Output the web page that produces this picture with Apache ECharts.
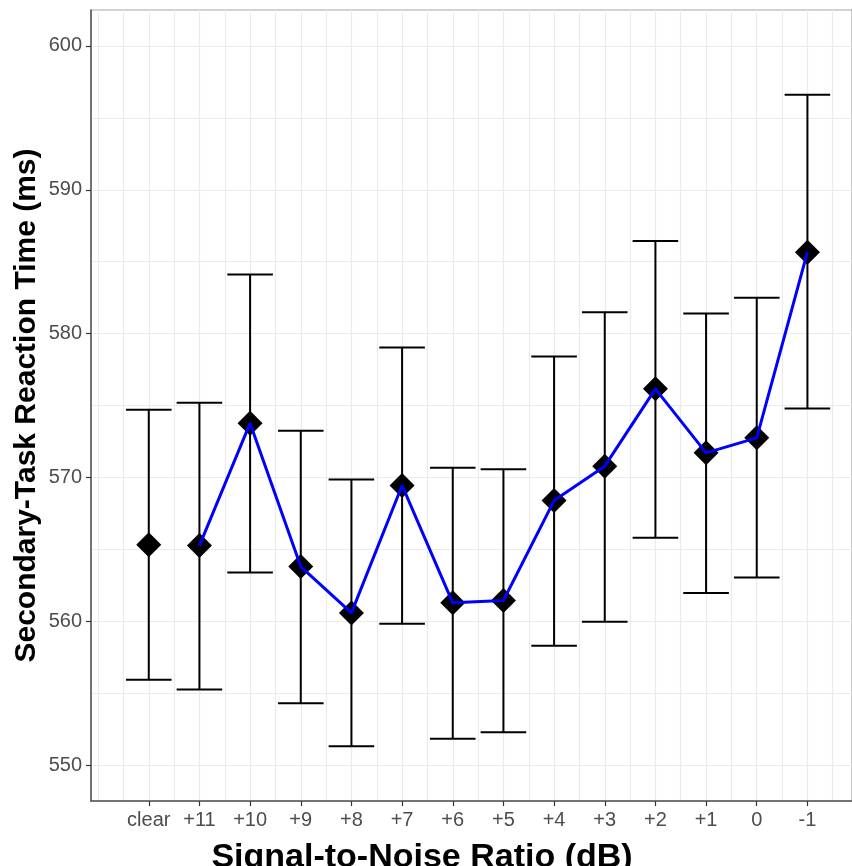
<!DOCTYPE html>
<html>
<head>
<meta charset="utf-8">
<script src="https://cdn.jsdelivr.net/npm/echarts@6/dist/echarts.min.js"></script>
<style>html,body{margin:0;padding:0;background:#fff}#c{width:852px;height:866px}</style>
</head>
<body>
<div id="c"></div>
<script>
const categories = ['clear','+11','+10','+9','+8','+7','+6','+5','+4','+3','+2','+1','0','-1'];
const means = [565.31, 565.26, 573.77, 563.8, 560.58, 569.44, 561.28, 561.44, 568.39, 570.78, 576.16, 571.71, 572.75, 585.66];
const upper = [574.7, 575.19, 584.11, 573.24, 569.85, 579.03, 570.67, 570.57, 578.41, 581.49, 586.43, 581.4, 582.49, 596.6];
const lower = [555.93, 555.25, 563.39, 554.3, 551.31, 559.82, 551.82, 552.28, 558.29, 559.96, 565.8, 561.97, 563.04, 574.79];
const yTicks = [550, 560, 570, 580, 590, 600];
const yGrid = [550, 555, 560, 565, 570, 575, 580, 585, 590, 595, 600];

const idx = categories.map((c, i) => i);
const xGrid = [];
for (let i = -2; i <= 28; i++) xGrid.push(i / 2);

const font = 'Liberation Sans, Arial, sans-serif';
const xMin = -1.14, xMax = 13.88, yMin = 547.5, yMax = 602.5;

const chart = echarts.init(document.getElementById('c'), null, {renderer: 'canvas'});
chart.setOption({
  animation: false,
  backgroundColor: '#fff',
  textStyle: {fontFamily: font},
  grid: {left: 91, right: 0, top: 10, bottom: 65, outerBoundsMode: 'none', containLabel: false,
    show: true, borderColor: '#a6a6a6', borderWidth: 1.2, backgroundColor: 'transparent'},
  xAxis: [
    {
      type: 'value', min: xMin, max: xMax, position: 'bottom',
      axisLine: {show: true, onZero: false, lineStyle: {color: '#555', width: 1.5}},
      axisTick: {show: false, customValues: xGrid},
      axisLabel: {show: false},
      splitLine: {show: true, lineStyle: {color: '#ebebeb', width: 1.2}}
    },
    {
      type: 'value', min: xMin, max: xMax, position: 'bottom',
      axisLine: {show: false, onZero: false},
      axisTick: {show: true, length: 5, customValues: idx, lineStyle: {color: '#333', width: 1.2}},
      axisLabel: {show: true, customValues: idx, margin: 9, color: '#4d4d4d', fontSize: 20, fontFamily: font,
        formatter: v => categories[Math.round(v)]},
      splitLine: {show: false},
      name: 'Signal-to-Noise Ratio (dB)', nameLocation: 'middle', nameGap: 40, nameMoveOverlap: false,
      nameTextStyle: {color: '#000', fontSize: 34, fontWeight: 'bold', fontFamily: font, padding: [0, 99, 0, 0]}
    }
  ],
  yAxis: [
    {
      type: 'value', min: yMin, max: yMax, position: 'left',
      axisLine: {show: true, onZero: false, lineStyle: {color: '#555', width: 1.5}},
      axisTick: {show: false, customValues: yGrid},
      axisLabel: {show: false},
      splitLine: {show: true, lineStyle: {color: '#ebebeb', width: 1.2}}
    },
    {
      type: 'value', min: yMin, max: yMax, position: 'left',
      axisLine: {show: false, onZero: false},
      axisTick: {show: true, length: 5, customValues: yTicks, lineStyle: {color: '#333', width: 1.2}},
      axisLabel: {show: true, customValues: yTicks, margin: 9, color: '#4d4d4d', fontSize: 20, fontFamily: font},
      splitLine: {show: false},
      name: 'Secondary-Task Reaction Time (ms)', nameLocation: 'middle', nameGap: 49, nameRotate: 90, nameMoveOverlap: false,
      nameTextStyle: {color: '#000', fontSize: 30, fontWeight: 'bold', fontFamily: font}
    }
  ],
  series: [
    {
      type: 'custom', xAxisIndex: 0, yAxisIndex: 0, z: 2,
      data: idx.map(i => [i, lower[i], upper[i]]),
      renderItem: function (params, api) {
        const x = api.value(0), lo = api.value(1), hi = api.value(2);
        const t = api.coord([x, hi]), b = api.coord([x, lo]);
        const hw = api.size([0.45, 0])[0];
        const st = {stroke: '#000', lineWidth: 2};
        return {type: 'group', children: [
          {type: 'line', shape: {x1: t[0], y1: t[1], x2: b[0], y2: b[1]}, style: st},
          {type: 'line', shape: {x1: t[0] - hw, y1: t[1], x2: t[0] + hw, y2: t[1]}, style: st},
          {type: 'line', shape: {x1: b[0] - hw, y1: b[1], x2: b[0] + hw, y2: b[1]}, style: st}
        ]};
      }
    },
    {
      type: 'scatter', xAxisIndex: 0, yAxisIndex: 0, z: 3,
      symbol: 'diamond', symbolSize: 25,
      itemStyle: {color: '#000', opacity: 1},
      data: idx.map(i => [i, means[i]])
    },
    {
      type: 'line', xAxisIndex: 0, yAxisIndex: 0, z: 4,
      symbol: 'none',
      lineStyle: {color: '#0000ff', width: 3},
      data: idx.slice(1).map(i => [i, means[i]])
    }
  ]
});
</script>
</body>
</html>
